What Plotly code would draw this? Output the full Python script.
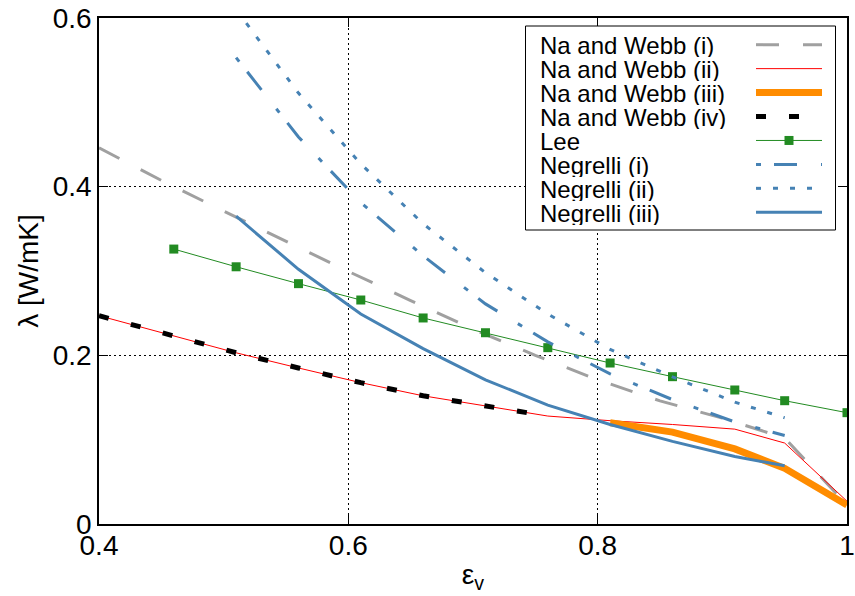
import plotly.graph_objects as go

# porosity grids
x_nw = [0.40, 0.45, 0.50, 0.55, 0.60, 0.65, 0.70, 0.75, 0.80, 0.85, 0.90, 0.95, 1.00]
x_red = [0.40, 0.46, 0.51, 0.56, 0.61, 0.66, 0.71, 0.76, 0.81, 0.86, 0.91, 0.95, 1.00]
x_black = [0.40, 0.46, 0.51, 0.56, 0.61, 0.66, 0.71, 0.76]
x_orange = [0.81, 0.86, 0.91, 0.95, 1.00]
x_lee = [0.46, 0.51, 0.56, 0.61, 0.66, 0.71, 0.76, 0.81, 0.86, 0.91, 0.95, 1.00]
x_neg = [0.51, 0.56, 0.61, 0.66, 0.71, 0.76, 0.81, 0.86, 0.91, 0.95]

# effective thermal conductivity [W/mK]
na_webb_i = [0.446, 0.4075, 0.371, 0.3355, 0.2995, 0.265, 0.231, 0.200, 0.171, 0.146, 0.1255, 0.102, 0.0225]
na_webb_ii = [0.247, 0.223, 0.203, 0.185, 0.1676, 0.152, 0.1396, 0.128, 0.1225, 0.118, 0.1125, 0.096, 0.027]
na_webb_iii = [0.120, 0.109, 0.089, 0.066, 0.0225]
na_webb_iv = [0.247, 0.223, 0.203, 0.185, 0.1676, 0.152, 0.1396, 0.128]
lee = [0.326, 0.305, 0.285, 0.2656, 0.2443, 0.2268, 0.2091, 0.1909, 0.1747, 0.1589, 0.1462, 0.132]
negrelli_i = [0.553, 0.459, 0.381, 0.318, 0.261, 0.216, 0.178, 0.1475, 0.121, 0.105]
negrelli_ii = [0.61, 0.511, 0.427, 0.356, 0.298, 0.249, 0.207, 0.1745, 0.1445, 0.126]
negrelli_iii = [0.365, 0.302, 0.249, 0.208, 0.171, 0.141, 0.118, 0.098, 0.080, 0.069]

x_ticks = [0.4, 0.6, 0.8, 1.0]
x_ticktext = ["0.4", "0.6", "0.8", "1"]
y_ticks = [0, 0.2, 0.4, 0.6]
y_ticktext = ["0", "0.2", "0.4", "0.6"]

labels = ["Na and Webb (i)", "Na and Webb (ii)", "Na and Webb (iii)", "Na and Webb (iv)",
          "Lee", "Negrelli (i)", "Negrelli (ii)", "Negrelli (iii)"]

GRAY = "#a0a0a0"
RED = "#ff0000"
ORANGE = "#ff8c00"
GREEN = "#228b22"
BLUE = "#4682b4"

styles = [
    dict(color=GRAY, width=3, dash="23px,24px"),
    dict(color=RED, width=1, dash="solid"),
    dict(color=ORANGE, width=7, dash="solid"),
    dict(color="black", width=5, dash="10px,23px"),
    dict(color=GREEN, width=1, dash="solid"),
    dict(color=BLUE, width=3, dash="5px,13px,23px,24px"),
    dict(color=BLUE, width=3, dash="5px,12px"),
    dict(color=BLUE, width=3, dash="solid"),
]

series = [
    (x_nw, na_webb_i),
    (x_red, na_webb_ii),
    (x_orange, na_webb_iii),
    (x_black, na_webb_iv),
    (x_lee, lee),
    (x_neg, negrelli_i),
    (x_neg, negrelli_ii),
    (x_neg, negrelli_iii),
]

W, H = 855, 596
L, R, T, B = 99, 847, 18, 524
FONT = "Liberation Sans"

fig = go.Figure()
for (xs, ys), name, st in zip(series, labels, styles):
    mode = "lines+markers" if name == "Lee" else "lines"
    fig.add_trace(go.Scatter(
        x=xs, y=ys, name=name, mode=mode,
        line=dict(color=st["color"], width=st["width"], dash=st["dash"]),
        marker=dict(symbol="square", size=9, color=GREEN),
        showlegend=False,
    ))


def px(xpix):
    return (xpix - L) / (R - L)


def py(ypix):
    return (B - ypix) / (B - T)


# key box with labels on the left and line samples on the right
shapes = [dict(type="rect", xref="paper", yref="paper",
               x0=px(525.5), x1=px(835.5), y0=py(26), y1=py(230),
               line=dict(color="black", width=1), fillcolor="white", layer="above")]
annotations = []
row0, dy = 44.7, 23.94
for i, (name, st) in enumerate(zip(labels, styles)):
    yrow = row0 + i * dy
    annotations.append(dict(
        text=name, xref="paper", yref="paper", x=px(538), y=py(yrow + 0.5),
        xanchor="left", yanchor="middle", valign="middle", showarrow=False, height=24,
        font=dict(family=FONT, size=24, color="black")))
    shapes.append(dict(type="line", xref="paper", yref="paper",
                       x0=px(756), x1=px(822), y0=py(yrow), y1=py(yrow),
                       line=dict(color=st["color"], width=st["width"], dash=st["dash"]),
                       layer="above"))
    if name == "Lee":
        shapes.append(dict(type="rect", xref="paper", yref="paper",
                           x0=px(784.5), x1=px(793.5), y0=py(yrow + 4.5), y1=py(yrow - 4.5),
                           line=dict(width=0), fillcolor=GREEN, layer="above"))

axis_common = dict(
    automargin=False,
    showline=True, linecolor="black", linewidth=1.5, mirror="ticks",
    ticks="inside", ticklen=9, tickwidth=1, tickcolor="black",
    showgrid=True, gridcolor="black", gridwidth=1, griddash="2px,3px",
    zeroline=False,
    tickfont=dict(family=FONT, size=28, color="black"),
)

fig.update_layout(
    template="none",
    width=W, height=H,
    margin=dict(l=L, r=W - R, t=T, b=H - B),
    paper_bgcolor="white", plot_bgcolor="white",
    showlegend=False,
    xaxis=dict(range=[0.4, 1.0], tickvals=x_ticks, ticktext=x_ticktext,
               ticklabelstandoff=-4,
               title=dict(text="ε<sub>v</sub>", font=dict(family=FONT, size=28, color="black"),
                          standoff=4),
               **axis_common),
    yaxis=dict(range=[0, 0.6], tickvals=y_ticks, ticktext=y_ticktext,
               ticklabelstandoff=0,
               title=dict(text="λ [W/mK]", font=dict(family=FONT, size=28, color="black"),
                          standoff=6),
               **axis_common),
    shapes=shapes,
    annotations=annotations,
)

fig.write_html("out.html")
